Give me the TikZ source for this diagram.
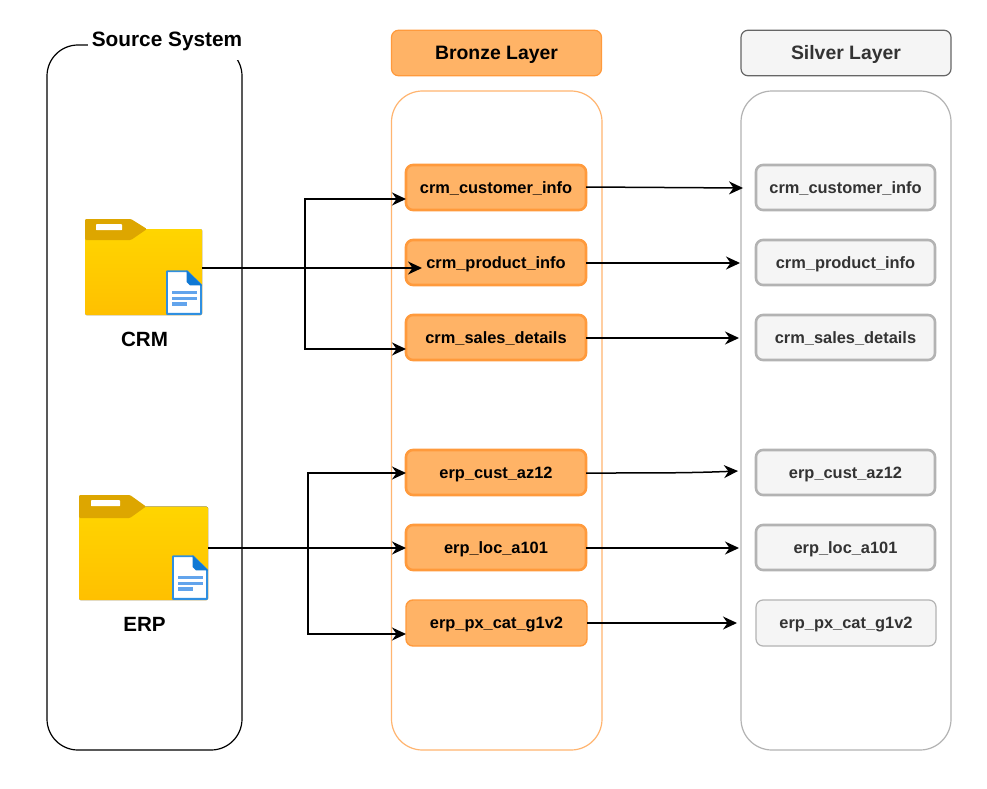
\documentclass[tikz,border=0pt]{standalone}
\usepackage{fontspec}
\setmainfont{Liberation Sans}
\usetikzlibrary{arrows.meta,calc}
\definecolor{bronzefill}{HTML}{FFB366}
\definecolor{bronzeline}{HTML}{FF9A3C}
\definecolor{bronzecont}{HTML}{FFB570}
\definecolor{silverfill}{HTML}{F5F5F5}
\definecolor{silverline}{HTML}{B3B3B3}
\definecolor{silvertext}{HTML}{333333}
\definecolor{tabgold}{HTML}{DDA600}
\definecolor{docblue}{HTML}{2F8FE0}
\definecolor{foldblue}{HTML}{0F78D4}
\definecolor{docbar}{HTML}{62A4EC}
\definecolor{FFtop}{HTML}{FFD500}
\definecolor{FFbot}{HTML}{FFC000}
% x0, y0 (top), x1, y1 (bottom), tab end x, body offset, tab offset, slot x0, slot x1
\newcommand{\folderart}[9]{%
  \fill[rounded corners=1.5pt, top color=FFtop, bottom color=FFbot]
    (#1,{#2+#6}) -- (#1,#4) -- (#3,#4) -- (#3,{#2+#6}) -- cycle;
  \fill[tabgold, rounded corners=1.2pt] (#1,{#2+#7}) -- (#1,#2) -- (#5,#2) -- ({#5+16},{#2+#6}) -- (#5,{#2+#7}) -- cycle;
  \fill[white, rounded corners=.6pt] (#8,{#2+5.2}) rectangle (#9,{#2+11.2});
  \begin{scope}[shift={({#3-36},{#4-45})}]
    \filldraw[fill=white, draw=docblue, line width=1.9pt, line join=round] (1,1.2) -- (21,1.2) -- (35,15) -- (35,43.8) -- (1,43.8) -- cycle;
    \fill[foldblue] (20.5,.4) -- (36,15.4) -- (24,15.4) -- (20.5,12) -- cycle;
    \fill[docbar] (5.7,20.7) rectangle (30.7,24);
    \fill[docbar] (5.7,26.7) rectangle (30.7,30);
    \fill[docbar] (5.7,32.4) rectangle (21,35.7);
  \end{scope}
}
\tikzset{
  x=1pt, y=-1pt,
  lbl/.style={font=\bfseries\fontsize{#1}{#1}\selectfont, text height={0.72*#1 pt}, text depth=0pt, inner sep=0pt, outer sep=0pt},
  bronzehead/.style={draw=bronzeline, fill=bronzefill, line width=1.2pt, rounded corners=7pt, minimum width=210pt, minimum height=45.5pt, inner sep=0pt, lbl=19.4, text=black},
  silverhead/.style={draw=black!60, fill=silverfill, line width=1.2pt, rounded corners=7pt, minimum width=210pt, minimum height=45.5pt, inner sep=0pt, lbl=19.4, text=silvertext},
  bronzetable/.style={draw=bronzeline, fill=bronzefill, line width=2.6pt, rounded corners=7pt, minimum width=180pt, minimum height=45pt, lbl=16.4, text=black},
  silvertable/.style={draw=silverline, fill=silverfill, line width=2.6pt, rounded corners=7pt, minimum width=179pt, minimum height=45pt, lbl=16.4, text=silvertext},
  thinb/.style={line width=1.2pt, minimum width=181pt, minimum height=46pt},
  container/.style={fill=white, rounded corners=31pt, line width=1.2pt},
  flow/.style={draw=black, line width=1.5pt, -{Stealth[length=14pt,width=13pt,inset=4.5pt]}},
  folderbox/.style={inner sep=0pt, outer sep=0pt},
  caption/.style={lbl=20.6, text=black}
}
\begin{document}
\begin{tikzpicture}
\useasboundingbox (0,0) rectangle (987,789);
\fill[white] (0,0) rectangle (987,789);

% containers
\draw[container, draw=black] (47,45) rectangle (242,750);
\node[fill=white, inner sep=0pt, minimum width=158pt, minimum height=32pt] (srcbg) at (167,44) {};
\node[lbl=20.8, text=black] (srctitle) at (167,39) {Source System};
\draw[container, draw=bronzecont] (391.5,91) rectangle (602,750);
\draw[container, draw=silverline] (741,91) rectangle (951,750);

% headers
\node[bronzehead] (bh) at (496.5,53) {Bronze Layer};
\node[silverhead] (sh) at (846,53) {Silver Layer};

% folders
\node[folderbox, minimum width=117pt, minimum height=96pt] (crm) at (143.5,268) {};
\node[folderbox, minimum width=129pt, minimum height=106pt] (erp) at (143.5,548) {};
\folderart{85}{219}{202}{315}{131}{10}{21}{96}{122}
\folderart{79}{495}{208}{600}{130}{11.5}{23}{91}{120}
\node[caption] (crmlabel) at (144.5,339) {CRM};
\node[caption] (erplabel) at (144.5,624) {ERP};

% bronze tables
\node[bronzetable] (b1) at (496,187.5) {crm\_customer\_info};
\node[bronzetable] (b2) at (496,262.5) {crm\_product\_info};
\node[bronzetable] (b3) at (496,337.5) {crm\_sales\_details};
\node[bronzetable] (b4) at (496,472.5) {erp\_cust\_az12};
\node[bronzetable] (b5) at (496,547.5) {erp\_loc\_a101};
\node[bronzetable, thinb, line width=1.4pt] (b6) at (496.5,623) {erp\_px\_cat\_g1v2};

% silver tables
\node[silvertable] (s1) at (845.5,187.5) {crm\_customer\_info};
\node[silvertable] (s2) at (845.5,262.5) {crm\_product\_info};
\node[silvertable] (s3) at (845.5,337.5) {crm\_sales\_details};
\node[silvertable] (s4) at (845.5,472.5) {erp\_cust\_az12};
\node[silvertable] (s5) at (845.5,547.5) {erp\_loc\_a101};
\node[silvertable, thinb, minimum width=180pt] (s6) at (846,623) {erp\_px\_cat\_g1v2};

% source to bronze
\draw[flow] (crm.east) -- (305,268) -- (305,199) -- ([yshift=-11.5pt]b1.west);
\draw[flow] (crm.east) -- ([xshift=16pt,yshift=-5.5pt]b2.west);
\draw[flow] (crm.east) -- (305,268) -- (305,349) -- ([yshift=-11.5pt]b3.west);
\draw[flow] (erp.east) -- (308,548) -- (308,473) -- ([yshift=-.5pt]b4.west);
\draw[flow] (erp.east) -- ([yshift=-.5pt]b5.west);
\draw[flow] (erp.east) -- (308,548) -- (308,634) -- ([yshift=-11pt]b6.west);

% bronze to silver
\draw[flow] ([yshift=.5pt]b1.east) -- ([xshift=-13pt,yshift=-.5pt]s1.west);
\draw[flow] ([yshift=-.5pt]b2.east) -- ([xshift=-16pt,yshift=-.5pt]s2.west);
\draw[flow] ([yshift=-.5pt]b3.east) -- ([xshift=-17pt,yshift=-.5pt]s3.west);
\draw[flow] ([yshift=-.5pt]b4.east) .. controls (660,473) and (690,473) .. ([xshift=-18pt,yshift=1.5pt]s4.west);
\draw[flow] ([yshift=-.5pt]b5.east) -- ([xshift=-17pt,yshift=-.5pt]s5.west);
\draw[flow] (b6.east) -- ([xshift=-19pt]s6.west);
\end{tikzpicture}
\end{document}
